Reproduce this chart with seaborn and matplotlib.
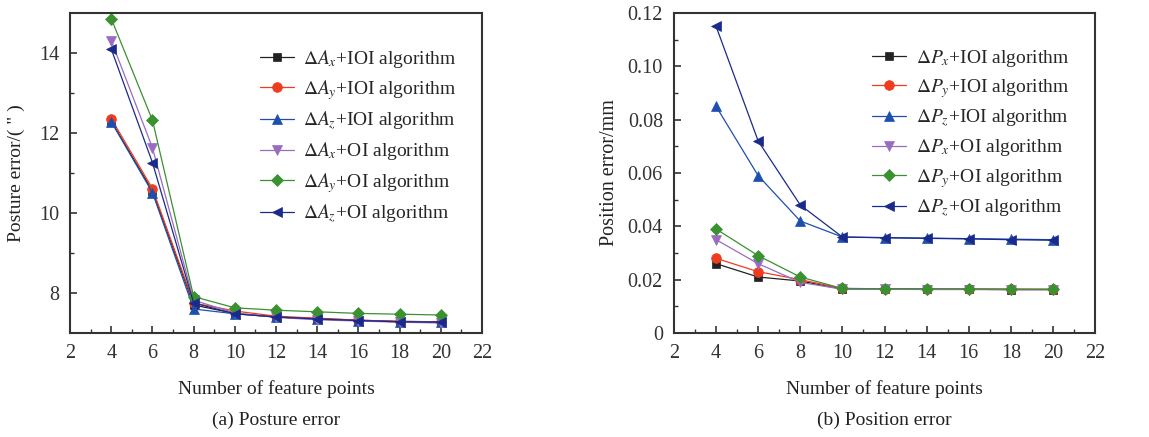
import numpy as np
import pandas as pd
import matplotlib
matplotlib.use('Agg')
import matplotlib.pyplot as plt
from matplotlib.ticker import MultipleLocator, FixedLocator, FixedFormatter
import seaborn as sns

# Data
points = [4, 6, 8, 10, 12, 14, 16, 18, 20]

# (a) posture error
ax_ioi = [12.30, 10.55, 7.70, 7.49, 7.40, 7.36, 7.32, 7.29, 7.28]
ay_ioi = [12.36, 10.61, 7.75, 7.55, 7.42, 7.37, 7.32, 7.29, 7.28]
az_ioi = [12.28, 10.51, 7.60, 7.48, 7.40, 7.35, 7.31, 7.28, 7.27]
ax_oi = [14.31, 11.63, 7.82, 7.50, 7.39, 7.33, 7.30, 7.27, 7.25]
ay_oi = [14.86, 12.32, 7.91, 7.63, 7.57, 7.53, 7.49, 7.47, 7.45]
az_oi = [14.10, 11.26, 7.75, 7.48, 7.40, 7.35, 7.31, 7.28, 7.27]

# (b) position error
px_ioi = [0.026, 0.021, 0.0195, 0.0165, 0.0165, 0.0164, 0.0164, 0.0163, 0.0163]
py_ioi = [0.028, 0.023, 0.0200, 0.0167, 0.0166, 0.0165, 0.0165, 0.0164, 0.0164]
pz_ioi = [0.085, 0.059, 0.042, 0.0360, 0.0358, 0.0356, 0.0354, 0.0352, 0.0350]
px_oi = [0.035, 0.026, 0.0190, 0.0164, 0.0164, 0.0163, 0.0163, 0.0162, 0.0162]
py_oi = [0.039, 0.029, 0.0210, 0.0167, 0.0166, 0.0166, 0.0165, 0.0165, 0.0164]
pz_oi = [0.115, 0.072, 0.048, 0.0360, 0.0357, 0.0355, 0.0353, 0.0350, 0.0348]

labels_a = [r'$\Delta A_x$+IOI algorithm', r'$\Delta A_y$+IOI algorithm', r'$\Delta A_z$+IOI algorithm',
            r'$\Delta A_x$+OI algorithm', r'$\Delta A_y$+OI algorithm', r'$\Delta A_z$+OI algorithm']
labels_b = [r'$\Delta P_x$+IOI algorithm', r'$\Delta P_y$+IOI algorithm', r'$\Delta P_z$+IOI algorithm',
            r'$\Delta P_x$+OI algorithm', r'$\Delta P_y$+OI algorithm', r'$\Delta P_z$+OI algorithm']

colors = ['#222222', '#f03c1e', '#1d4fae', '#9a6cc0', '#3a9130', '#1a2a8a']
markers = ['s', 'o', '^', 'v', 'D', '<']
msizes = [6, 7, 7, 7, 6, 7]

sns.set_style('ticks')
plt.rcParams['font.family'] = ['Liberation Serif', 'DejaVu Serif']
plt.rcParams['mathtext.fontset'] = 'stix'
plt.rcParams['font.size'] = 14

fig = plt.figure(figsize=(11.49, 4.37), dpi=100)
ax1 = fig.add_axes([0.061, 0.238, 0.3585, 0.732])
ax2 = fig.add_axes([0.5866, 0.238, 0.3664, 0.732])


def draw(ax, series, labels):
    for vals, lab, c, m, ms in zip(series, labels, colors, markers, msizes):
        df = pd.DataFrame({'n': points, 'v': vals})
        sns.lineplot(data=df, x='n', y='v', ax=ax, color=c, marker=m, markersize=ms,
                     markeredgecolor=c, markeredgewidth=0.5, linewidth=0.9, label=lab)
    ax.set_xlim(2, 22)
    ax.xaxis.set_major_locator(MultipleLocator(2))
    ax.xaxis.set_minor_locator(MultipleLocator(1))
    ax.tick_params(which='both', direction='in', colors='#333333', labelsize=14.5, labelcolor='#333333')
    ax.tick_params(which='major', length=5, width=1.2, pad=8)
    ax.tick_params(which='minor', length=3, width=1.0)
    for s in ax.spines.values():
        s.set_linewidth(1.5)
        s.set_color('#333333')
    ax.set_xlabel('Number of feature points', fontsize=14, color='#222222', labelpad=12)
    ax.legend(frameon=False, loc='upper right', bbox_to_anchor=(0.972, 0.935), fontsize=14,
              handlelength=1.75, handletextpad=0.5, labelspacing=0.42, borderaxespad=0.3)


draw(ax1, [ax_ioi, ay_ioi, az_ioi, ax_oi, ay_oi, az_oi], labels_a)
ax1.set_ylim(7.0, 15.0)
ax1.set_yticks([8, 10, 12, 14])
ax1.yaxis.set_minor_locator(FixedLocator([9, 11, 13]))
ax1.set_ylabel('Posture error/( " )', fontsize=14, color='#222222', labelpad=10)

draw(ax2, [px_ioi, py_ioi, pz_ioi, px_oi, py_oi, pz_oi], labels_b)
ax2.set_ylim(0, 0.12)
yt = [0, 0.02, 0.04, 0.06, 0.08, 0.10, 0.12]
ax2.yaxis.set_major_locator(FixedLocator(yt))
ax2.yaxis.set_major_formatter(FixedFormatter(['0', '0.02', '0.04', '0.06', '0.08', '0.10', '0.12']))
ax2.yaxis.set_minor_locator(MultipleLocator(0.01))
ax2.set_ylabel('Position error/mm', fontsize=14.5, color='#222222', labelpad=6)

fig.text(0.2405, 0.039, '(a) Posture error', ha='center', va='center', fontsize=14, color='#222222')
fig.text(0.77, 0.039, '(b) Position error', ha='center', va='center', fontsize=14, color='#222222')

fig.savefig('out.png', dpi=100)
